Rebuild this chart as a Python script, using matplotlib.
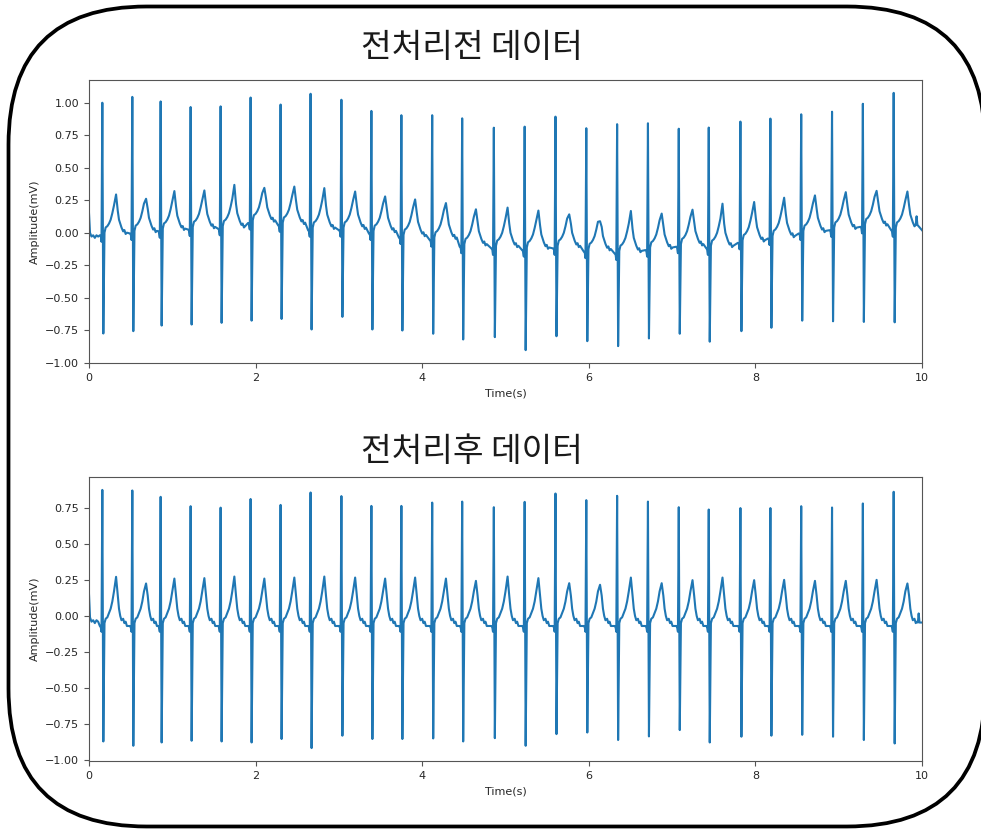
import numpy as np
import matplotlib
matplotlib.use("Agg")
import matplotlib.pyplot as plt
from matplotlib.patches import FancyBboxPatch

# ---- beat annotations (seconds / mV) ----
beat_times = [0.16, 0.52, 0.86, 1.22, 1.58, 1.94, 2.30, 2.66, 3.03, 3.39,
              3.75, 4.12, 4.48, 4.86, 5.23, 5.60, 5.97, 6.34, 6.71, 7.08,
              7.44, 7.82, 8.18, 8.55, 8.92, 9.29, 9.66]

# raw recording
raw_r = [1.00, 1.045, 1.01, 0.967, 0.972, 1.04, 0.986, 1.069, 1.023, 0.937,
         0.904, 0.904, 0.88, 0.808, 0.816, 0.893, 0.804, 0.835, 0.842, 0.80,
         0.809, 0.855, 0.878, 0.911, 0.931, 0.992, 1.076]
raw_s = [-0.776, -0.758, -0.715, -0.707, -0.694, -0.677, -0.664, -0.745, -0.648, -0.745,
         -0.753, -0.778, -0.822, -0.804, -0.904, -0.797, -0.835, -0.873, -0.814, -0.778,
         -0.839, -0.758, -0.732, -0.677, -0.682, -0.687, -0.690]
raw_t = [0.294, 0.261, 0.320, 0.325, 0.368, 0.345, 0.355, 0.343, 0.317, 0.279,
         0.256, 0.228, 0.180, 0.193, 0.170, 0.141, 0.088, 0.167, 0.147, 0.177,
         0.223, 0.236, 0.269, 0.287, 0.312, 0.322, 0.317]
raw_base = [-0.02, -0.006, 0.011, 0.024, 0.03, 0.075, 0.057, 0.019, 0.019, -0.006,
            -0.037, -0.057, -0.108, -0.121, -0.134, -0.121, -0.146, -0.16, -0.134, -0.108,
            -0.121, -0.078, -0.045, -0.006, 0.019, 0.045, 0.019]
raw_lead_t = [0.0, 0.012, 0.03, 0.05, 0.07, 0.09, 0.11]
raw_lead_v = [0.15, 0.0, -0.03, -0.02, -0.04, -0.02, -0.03]
raw_tail_t = [9.925, 9.935, 9.945, 10.0]
raw_tail_v = [0.059, 0.126, 0.06, 0.019]

# filtered recording
clean_r = [0.874, 0.87, 0.826, 0.761, 0.751, 0.811, 0.77, 0.856, 0.831, 0.763,
           0.763, 0.786, 0.793, 0.754, 0.791, 0.849, 0.803, 0.833, 0.793, 0.754,
           0.738, 0.748, 0.748, 0.761, 0.752, 0.780, 0.861]
clean_s = [-0.871, -0.901, -0.878, -0.866, -0.871, -0.878, -0.854, -0.917, -0.831, -0.854,
           -0.854, -0.85, -0.871, -0.848, -0.901, -0.82, -0.809, -0.861, -0.836, -0.792,
           -0.878, -0.838, -0.831, -0.825, -0.838, -0.861, -0.885]
clean_t = [0.271, 0.225, 0.259, 0.262, 0.273, 0.259, 0.266, 0.273, 0.266, 0.259,
           0.266, 0.259, 0.243, 0.273, 0.262, 0.227, 0.216, 0.266, 0.227, 0.248,
           0.266, 0.248, 0.25, 0.243, 0.243, 0.25, 0.225]
clean_base = [0.0] * len(beat_times)
clean_lead_t = [0.0, 0.012, 0.03, 0.05, 0.07, 0.09, 0.11]
clean_lead_v = [0.15, -0.01, -0.04, -0.03, -0.05, -0.03, -0.04]
clean_tail_t = [9.95, 9.96, 9.97, 10.0]
clean_tail_v = [-0.046, 0.017, -0.046, -0.046]

# ---- per-beat waveform outline: offsets from the R peak (s) ----
WAVE_DT = [-0.030, -0.018, -0.010, 0.0, 0.012, 0.026, 0.040, 0.060, 0.080, 0.100,
           0.120, 0.140, 0.165, 0.185, 0.200, 0.215, 0.230, 0.250, 0.265, 0.280, 0.295]
R_IDX, S_IDX, T_IDX = 3, 4, 12
RAW_SHAPE = [0.0, -0.01, -0.05, 0, 0, 0.02, 0.06, 0.07, 0.09, 0.12,
             0.17, 0.23, 0, 0.19, 0.12, 0.09, 0.06, 0.03, 0.04, 0.01, 0.02]
CLEAN_SHAPE = [-0.07, -0.08, -0.11, 0, 0, -0.05, -0.02, -0.01, 0.02, 0.05,
               0.10, 0.17, 0, 0.14, 0.05, 0.0, -0.03, -0.02, -0.05, -0.04, -0.07]


def build_trace(r, s, t, base, shape, lead_t, lead_v, tail_t, tail_v):
    xs, ys = list(lead_t), list(lead_v)
    for tb, rv, sv, tv, b in zip(beat_times, r, s, t, base):
        for i, (dt, off) in enumerate(zip(WAVE_DT, shape)):
            x = tb + dt
            if x >= tail_t[0]:
                continue
            if i == R_IDX:
                y = rv
            elif i == S_IDX:
                y = sv
            elif i == T_IDX:
                y = tv
            else:
                y = b + off
            xs.append(x)
            ys.append(y)
    xs += list(tail_t)
    ys += list(tail_v)
    return np.array(xs), np.array(ys)


raw_x, raw_y = build_trace(raw_r, raw_s, raw_t, raw_base, RAW_SHAPE,
                           raw_lead_t, raw_lead_v, raw_tail_t, raw_tail_v)
clean_x, clean_y = build_trace(clean_r, clean_s, clean_t, clean_base, CLEAN_SHAPE,
                               clean_lead_t, clean_lead_v, clean_tail_t, clean_tail_v)

plt.rcParams['font.family'] = ['DejaVu Sans']

W, H = 981, 831
fig = plt.figure(figsize=(W / 100, H / 100), dpi=100, facecolor='white')

# pixel-space background layer: rounded frame and panel titles
bg = fig.add_axes([0, 0, 1, 1])
bg.set_xlim(0, W)
bg.set_ylim(H, 0)
bg.axis('off')
frame = FancyBboxPatch((8.5, 6.5), 985 - 8.5, 826.5 - 6.5,
                       boxstyle="round,pad=0,rounding_size=138",
                       facecolor='white', edgecolor='black', linewidth=2.7,
                       clip_on=False)
bg.add_patch(frame)
title_font = ['Noto Sans CJK KR', 'DejaVu Sans']
bg.text(472, 48, '전처리전 데이터', ha='center', va='center', fontsize=24,
        family=title_font, color='#1a1a1a')
bg.text(472, 451, '전처리후 데이터', ha='center', va='center', fontsize=24,
        family=title_font, color='#1a1a1a')


def panel(rect, x, y):
    ax = fig.add_axes(rect)
    ax.plot(x, y, color='#1f77b4', linewidth=1.5)
    ax.set_xlim(0, 10)
    ax.set_xticks([0, 2, 4, 6, 8, 10])
    ax.set_xlabel('Time(s)', fontsize=8, color='#262626')
    ax.set_ylabel('Amplitude(mV)', fontsize=8, color='#262626')
    ax.tick_params(labelsize=8, labelcolor='#262626', color='#555555', length=3.5)
    for sp in ax.spines.values():
        sp.set_color('#555555')
    return ax


left = 89 / W
width = (922 - 89) / W
panel([left, 1 - 363 / H, width, 283 / H], raw_x, raw_y)
panel([left, 1 - 761 / H, width, 284 / H], clean_x, clean_y)

fig.savefig('out.png', dpi=100, facecolor='white')
